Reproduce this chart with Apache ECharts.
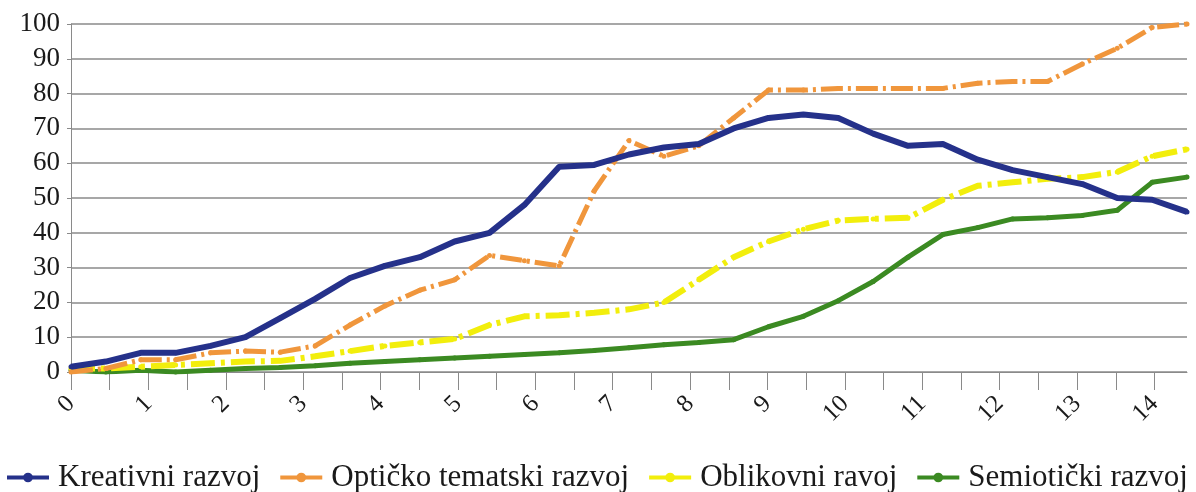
<!DOCTYPE html>
<html>
<head>
<meta charset="utf-8">
<script src="https://cdn.jsdelivr.net/npm/echarts@6/dist/echarts.min.js"></script>
<style>
  html, body { margin: 0; padding: 0; background: #fff; }
  #chart { width: 1196px; height: 492px; }
</style>
</head>
<body>
<div id="chart"></div>
<script>
// measurement points along the time axis (33 of them)
var points = ['1', '2', '3', '4', '5', '6', '7', '8', '9', '10', '11', '12', '13', '14', '15', '16', '17',
  '18', '19', '20', '21', '22', '23', '24', '25', '26', '27', '28', '29', '30', '31', '32', '33'];

var kreativni = [1.5, 3, 5.5, 5.5, 7.5, 10, 15.5, 21, 27, 30.5, 33, 37.5, 40, 48, 59, 59.5, 62.5,
  64.5, 65.5, 70, 73, 74, 73, 68.5, 65, 65.5, 61, 58, 56, 54, 50, 49.5, 46];
var opticko = [0, 1, 3.5, 3.5, 5.5, 6, 5.7, 7.5, 13.5, 19, 23.5, 26.5, 33.5, 32, 30.5, 52, 66.5,
  62, 65, 73, 81, 81, 81.5, 81.5, 81.5, 81.5, 83, 83.5, 83.5, 88.5, 93, 99, 100];
var oblikovni = [1, 1, 1.5, 2, 2.5, 3, 3.2, 4.5, 6, 7.5, 8.5, 9.5, 13.5, 16, 16.3, 17, 18,
  20, 26.5, 33, 37.5, 41, 43.5, 44, 44.3, 49.5, 53.5, 54.5, 55.5, 56, 57.5, 62, 64];
var semioticki = [0.5, 0, 0.5, 0, 0.5, 1, 1.3, 1.8, 2.5, 3, 3.5, 4, 4.5, 5, 5.5, 6.2, 7,
  7.8, 8.5, 9.3, 13, 16, 20.5, 26, 33, 39.5, 41.5, 44, 44.3, 45, 46.5, 54.5, 56];

// age scale shown under the chart
var ageLabels = [0, 1, 2, 3, 4, 5, 6, 7, 8, 9, 10, 11, 12, 13, 14];
var ageTicks = [0, 0.5, 1, 1.5, 2, 2.5, 3, 3.5, 4, 4.5, 5, 5.5, 6, 6.5, 7, 7.5, 8, 8.5, 9, 9.5,
  10, 10.5, 11, 11.5, 12, 12.5, 13, 13.5, 14];

var serif = 'Liberation Serif';
var gridColor = '#8a8a8a';

var chart = echarts.init(document.getElementById('chart'));

var option = {
  animation: false,
  grid: {
    left: 71,
    right: 9,
    top: 24,
    bottom: 120,
    outerBoundsMode: 'none'
  },
  legend: {
    left: 5,
    top: 462,
    padding: 0,
    itemWidth: 42,
    itemHeight: 12,
    itemGap: 18,
    textStyle: {
      fontFamily: serif,
      fontSize: 31,
      color: '#1a1a1a',
      padding: [0, 0, 0, 4]
    },
    lineStyle: {
      type: 'solid',
      width: 4
    },
    data: ['Kreativni razvoj', 'Optičko tematski razvoj', 'Oblikovni ravoj', 'Semiotički razvoj']
  },
  xAxis: [
    {
      type: 'category',
      data: points,
      boundaryGap: false,
      show: false
    },
    {
      type: 'value',
      min: 0,
      max: 14.42,
      position: 'bottom',
      axisLine: { show: true, lineStyle: { color: gridColor, width: 1 } },
      axisTick: {
        show: true,
        length: 18,
        customValues: ageTicks,
        lineStyle: { color: gridColor, width: 1 }
      },
      axisLabel: {
        customValues: ageLabels,
        rotate: 45,
        margin: 28,
        fontFamily: serif,
        fontSize: 25,
        color: '#1a1a1a'
      },
      splitLine: { show: false }
    }
  ],
  yAxis: {
    type: 'value',
    min: 0,
    max: 100,
    interval: 10,
    axisLine: { show: true, lineStyle: { color: gridColor, width: 1 } },
    axisTick: { show: true, length: 4, lineStyle: { color: gridColor } },
    axisLabel: {
      margin: 11,
      fontFamily: serif,
      fontSize: 27,
      color: '#1a1a1a'
    },
    splitLine: { lineStyle: { color: gridColor, width: 1.5 } }
  },
  series: [
    {
      name: 'Kreativni razvoj',
      type: 'line',
      xAxisIndex: 0,
      data: kreativni,
      symbol: 'circle',
      symbolSize: 5,
      color: '#25318a',
      lineStyle: { width: 6, color: '#25318a' },
      z: 4
    },
    {
      name: 'Optičko tematski razvoj',
      type: 'line',
      xAxisIndex: 0,
      data: opticko,
      symbol: 'circle',
      symbolSize: 5,
      color: '#f0963c',
      lineStyle: { width: 5, color: '#f0963c', type: [22, 5, 3, 5] },
      z: 3
    },
    {
      name: 'Oblikovni ravoj',
      type: 'line',
      xAxisIndex: 0,
      data: oblikovni,
      symbol: 'circle',
      symbolSize: 5,
      color: '#f2ee0c',
      lineStyle: { width: 6, color: '#f2ee0c', type: [24, 6, 4, 6] },
      z: 2
    },
    {
      name: 'Semiotički razvoj',
      type: 'line',
      xAxisIndex: 0,
      data: semioticki,
      symbol: 'circle',
      symbolSize: 5,
      color: '#3b8a22',
      lineStyle: { width: 5, color: '#3b8a22' },
      z: 1
    }
  ]
};

chart.setOption(option);
</script>
</body>
</html>
